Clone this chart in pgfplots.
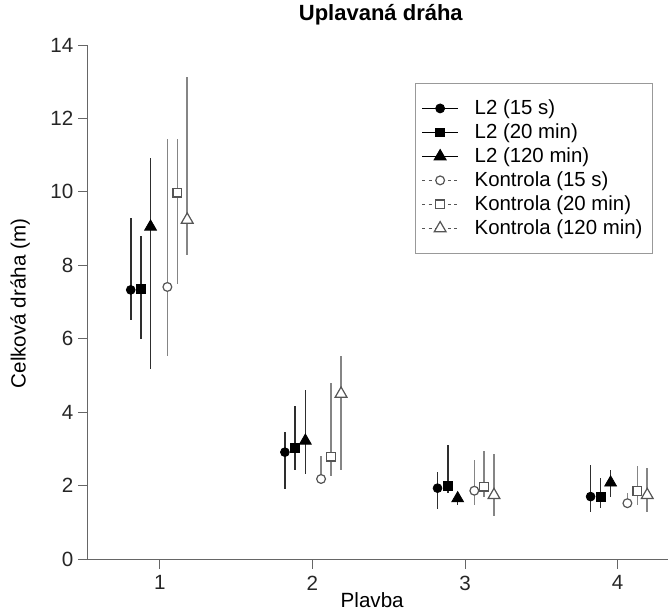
\documentclass[border=0pt]{standalone}
\usepackage{fontspec}
\setmainfont{Liberation Sans}
\usepackage{pgfplots}
\pgfplotsset{compat=1.18}

\definecolor{darkbar}{HTML}{2E2E2E}
\definecolor{lightbar}{HTML}{858585}
\definecolor{openedge}{HTML}{555555}
\definecolor{axisgray}{HTML}{666666}

\pgfplotsset{
  filledser/.style={only marks,
    mark options={draw=black, fill=black, solid},
    error bars/y dir=both, error bars/y explicit, error bars/error mark=none,
    error bars/error bar style={line width=0.8pt, darkbar}},
  openser/.style={only marks,
    mark options={draw=openedge, fill=white, solid, line width=0.6pt},
    error bars/y dir=both, error bars/y explicit, error bars/error mark=none,
    error bars/error bar style={line width=0.8pt, lightbar}},
  filledleg/.style={legend image code/.code={
    \draw[black, line width=0.6pt] (0cm,0cm) -- (0.63cm,0cm);
    \draw[##1] plot coordinates {(0.315cm,0cm)};}},
  openleg/.style={legend image code/.code={
    \draw[openedge, line width=0.5pt, dash pattern=on 1.6pt off 1.6pt] (0cm,0cm) -- (0.63cm,0cm);
    \draw[##1] plot coordinates {(0.315cm,0cm)};}},
}

\begin{document}
\begin{tikzpicture}
\begin{axis}[
  scale only axis,
  width=290pt, height=257pt,
  xmin=0.53, xmax=4.33,
  ymin=0, ymax=14,
  xtick={1,2,3,4},
  ytick={0,2,...,14},
  axis x line*=bottom,
  axis y line*=left,
  axis line style={axisgray, line width=0.5pt},
  tick style={axisgray, line width=0.5pt},
  tick align=outside,
  major tick length=4.8pt,
  /pgf/number format/assume math mode=true,
  tick label style={font=\fontsize{10.3}{12}\selectfont, black!85},
  yticklabel style={xshift=1pt},
  title={\textbf{Uplavaná dráha}},
  title style={at={(axis description cs:0.505,1.025)}, anchor=base, inner sep=0pt,
    font=\fontsize{11}{13}\selectfont},
  xlabel={Plavba},
  xlabel style={at={(axis description cs:0.49,-0.094)}, anchor=base, inner sep=0pt,
    font=\fontsize{10.3}{12}\selectfont},
  ylabel={Celková dráha (m)},
  ylabel style={at={(axis description cs:-0.117,0.497)}, anchor=center, inner sep=0pt,
    font=\fontsize{10.3}{12}\selectfont},
  legend cell align=left,
  legend style={at={(0.564,0.926)}, anchor=north west, draw=gray!80,
    line width=0.5pt, inner xsep=3pt, inner ysep=6pt, row sep=-0.9pt,
    font=\fontsize{10.2}{12}\selectfont,
    /tikz/every odd column/.append style={column sep=6pt}},
]
% L2 (15 s)
\addplot[filledser, filledleg, mark=*, mark size=2.2pt] coordinates {
  (0.810,7.33) += (0,1.97) -= (0,0.82)
  (1.820,2.91) += (0,0.56) -= (0,1.01)
  (2.820,1.93) += (0,0.43) -= (0,0.58)
  (3.823,1.70) += (0,0.85) -= (0,0.42)
};
\addlegendentry{L2 (15 s)}
% L2 (20 min)
\addplot[filledser, filledleg, mark=square*, mark size=2.2pt] coordinates {
  (0.876,7.36) += (0,1.45) -= (0,1.37)
  (1.885,3.03) += (0,1.14) -= (0,0.60)
  (2.887,2.00) += (0,1.11) -= (0,0.20)
  (3.889,1.70) += (0,0.50) -= (0,0.32)
};
\addlegendentry{L2 (20 min)}
% L2 (120 min)
\addplot[filledser, filledleg, mark=triangle*, mark size=3.4pt] coordinates {
  (0.940,9.05) += (0,1.88) -= (0,3.87)
  (1.954,3.22) += (0,1.38) -= (0,0.90)
  (2.952,1.65) += (0,0.05) -= (0,0.19)
  (3.954,2.08) += (0,0.34) -= (0,0.38)
};
\addlegendentry{L2 (120 min)}
% Kontrola (15 s)
\addplot[openser, openleg, mark=*, mark size=2.2pt] coordinates {
  (1.050,7.41) += (0,4.03) -= (0,1.87)
  (2.057,2.18) += (0,0.63) -= (0,0.14)
  (3.061,1.86) += (0,0.84) -= (0,0.39)
  (4.064,1.52) += (0,0.28) -= (0,0.13)
};
\addlegendentry{Kontrola (15 s)}
% Kontrola (20 min)
\addplot[openser, openleg, mark=square*, mark size=2.2pt] coordinates {
  (1.116,9.98) += (0,1.46) -= (0,2.50)
  (2.124,2.79) += (0,2.00) -= (0,0.53)
  (3.126,1.97) += (0,0.98) -= (0,0.27)
  (4.129,1.85) += (0,0.68) -= (0,0.37)
};
\addlegendentry{Kontrola (20 min)}
% Kontrola (120 min)
\addplot[openser, openleg, mark=triangle*, mark size=3.4pt] coordinates {
  (1.180,9.24) += (0,3.90) -= (0,0.96)
  (2.188,4.50) += (0,1.04) -= (0,2.07)
  (3.190,1.74) += (0,1.13) -= (0,0.58)
  (4.194,1.74) += (0,0.73) -= (0,0.47)
};
\addlegendentry{Kontrola (120 min)}
\end{axis}
\pgfresetboundingbox
\path[use as bounding box] (-44pt,-26.5pt) rectangle (290pt,279.5pt);
\end{tikzpicture}
\end{document}
